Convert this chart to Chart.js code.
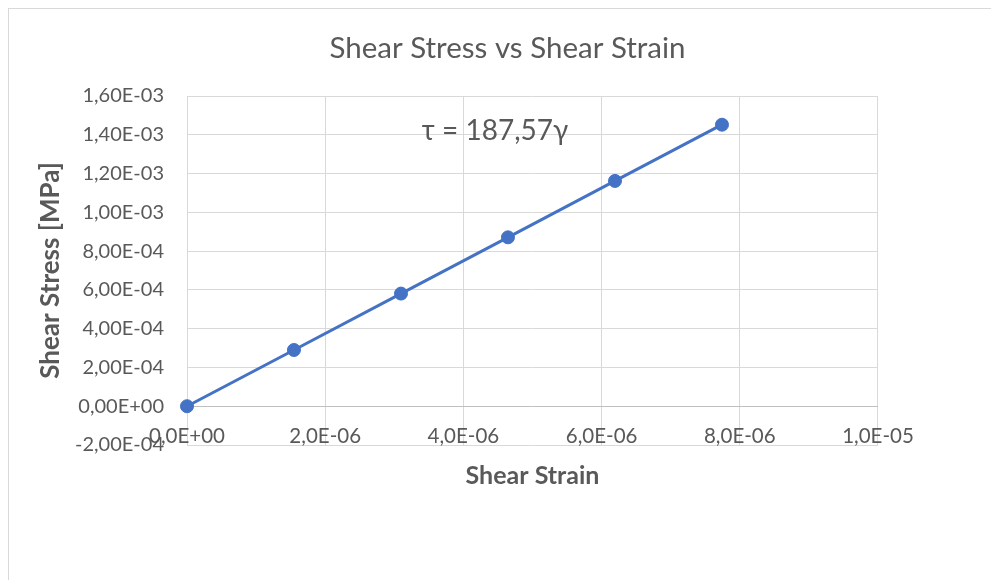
<!DOCTYPE html>
<html><head><meta charset="utf-8">
<script src="https://cdn.jsdelivr.net/npm/chart.js@4/dist/chart.umd.min.js"></script>
<style>
html,body{margin:0;padding:0;background:#fff;overflow:hidden}
#wrap{position:relative;width:991px;height:580px;overflow:hidden}
#frame{position:absolute;left:8px;top:8px;width:1000px;height:600px;border:1px solid #d9d9d9;box-sizing:border-box;pointer-events:none}
canvas{position:absolute;left:0;top:0}
</style></head>
<body><div id="wrap"><canvas id="c" width="991" height="580"></canvas><div id="frame"></div></div>
<script>
// ---- data ----
const shearStrain = [0, 1.548e-6, 3.097e-6, 4.645e-6, 6.194e-6, 7.742e-6];
const shearStress = [0, 2.90e-4, 5.81e-4, 8.71e-4, 1.162e-3, 1.452e-3];
const chartTitle = 'Shear Stress vs Shear Strain';
const xAxisTitle = 'Shear Strain';
const yAxisTitle = 'Shear Stress [MPa]';
const equationText = 'τ = 187,57γ';
const equationPos = [4.457e-6, 1.42e-3];
const xRange = [0, 1e-5, 2e-6];
const yRange = [-2e-4, 1.6e-3, 2e-4];

function excelExp(v, digits) {
  let s = v.toExponential(digits);
  let [m, e] = s.split('e');
  const sign = e[0] === '-' ? '-' : '+';
  e = e.replace('+', '').replace('-', '');
  if (e.length < 2) e = '0' + e;
  return m.replace('.', ',') + 'E' + sign + e;
}

const FONT = "Lato, 'Open Sans', 'Noto Sans', sans-serif";
const GREY = '#595959';
Chart.defaults.font.family = FONT;
Chart.defaults.color = GREY;

const equationPlugin = {
  id: 'equation',
  afterDatasetsDraw(chart) {
    const {ctx, scales} = chart;
    ctx.save();
    ctx.font = '28px ' + FONT;
    ctx.fillStyle = GREY;
    ctx.textAlign = 'center';
    ctx.textBaseline = 'middle';
    ctx.fillText(equationText, scales.x.getPixelForValue(equationPos[0]), scales.y.getPixelForValue(equationPos[1]));
    ctx.restore();
  }
};

new Chart(document.getElementById('c'), {
  type: 'scatter',
  data: {
    datasets: [{
      data: shearStrain.map((x, i) => ({x, y: shearStress[i]})),
      showLine: true,
      borderColor: '#4472C4',
      backgroundColor: '#4472C4',
      borderWidth: 3,
      pointRadius: 6.5,
      pointBorderWidth: 1,
      pointBackgroundColor: '#4472C4',
      pointBorderColor: '#4472C4',
      clip: false
    }]
  },
  options: {
    responsive: false,
    animation: false,
    devicePixelRatio: 1,
    layout: {padding: {left: 24, right: 0, top: 0, bottom: 89}},
    plugins: {
      legend: {display: false},
      tooltip: {enabled: false},
      title: {
        display: true,
        text: chartTitle,
        color: GREY,
        font: {size: 29.5, weight: 'normal', family: FONT},
        padding: {top: 30.3, bottom: 30.3}
      }
    },
    scales: {
      x: {
        type: 'linear',
        position: 'bottom',
        min: xRange[0], max: xRange[1],
        afterBuildTicks(scale) {
          const t = [];
          for (let i = 0; i <= Math.round((xRange[1] - xRange[0]) / xRange[2]); i++) t.push({value: xRange[0] + i * xRange[2]});
          scale.ticks = t;
        },
        ticks: {
          callback: v => excelExp(v, 1),
          color: GREY,
          font: {size: 20.5},
          padding: -21,
          maxRotation: 0,
          autoSkip: false
        },
        grid: {color: '#d9d9d9', lineWidth: 1, drawTicks: false},
        border: {display: false},
        title: {display: true, text: xAxisTitle, color: GREY, font: {size: 25, weight: 'bold'}, padding: {top: 0, bottom: 0}},
        afterFit(scale) {
          scale.height = 46;
          scale.paddingRight = 113;
          scale._computeLabelArea = () => null;
        }
      },
      y: {
        type: 'linear',
        min: yRange[0], max: yRange[1],
        afterBuildTicks(scale) {
          const t = [];
          for (let i = 0; i <= Math.round((yRange[1] - yRange[0]) / yRange[2]); i++) t.push({value: yRange[0] + i * yRange[2]});
          scale.ticks = t;
        },
        ticks: {
          callback: v => excelExp(v, 2),
          color: GREY,
          font: {size: 20},
          padding: 23,
          autoSkip: false
        },
        grid: {
          color: ctx => (ctx.tick && Math.abs(ctx.tick.value) < 1e-12) ? '#bfbfbf' : '#d9d9d9',
          lineWidth: 1,
          drawTicks: false
        },
        border: {display: false},
        title: {display: true, text: yAxisTitle, color: GREY, font: {size: 26, weight: 'bold'}, padding: {top: 11, bottom: 0}},
        afterFit(scale) { scale.width = 163; }
      }
    }
  },
  plugins: [equationPlugin]
});
</script>
</body></html>
